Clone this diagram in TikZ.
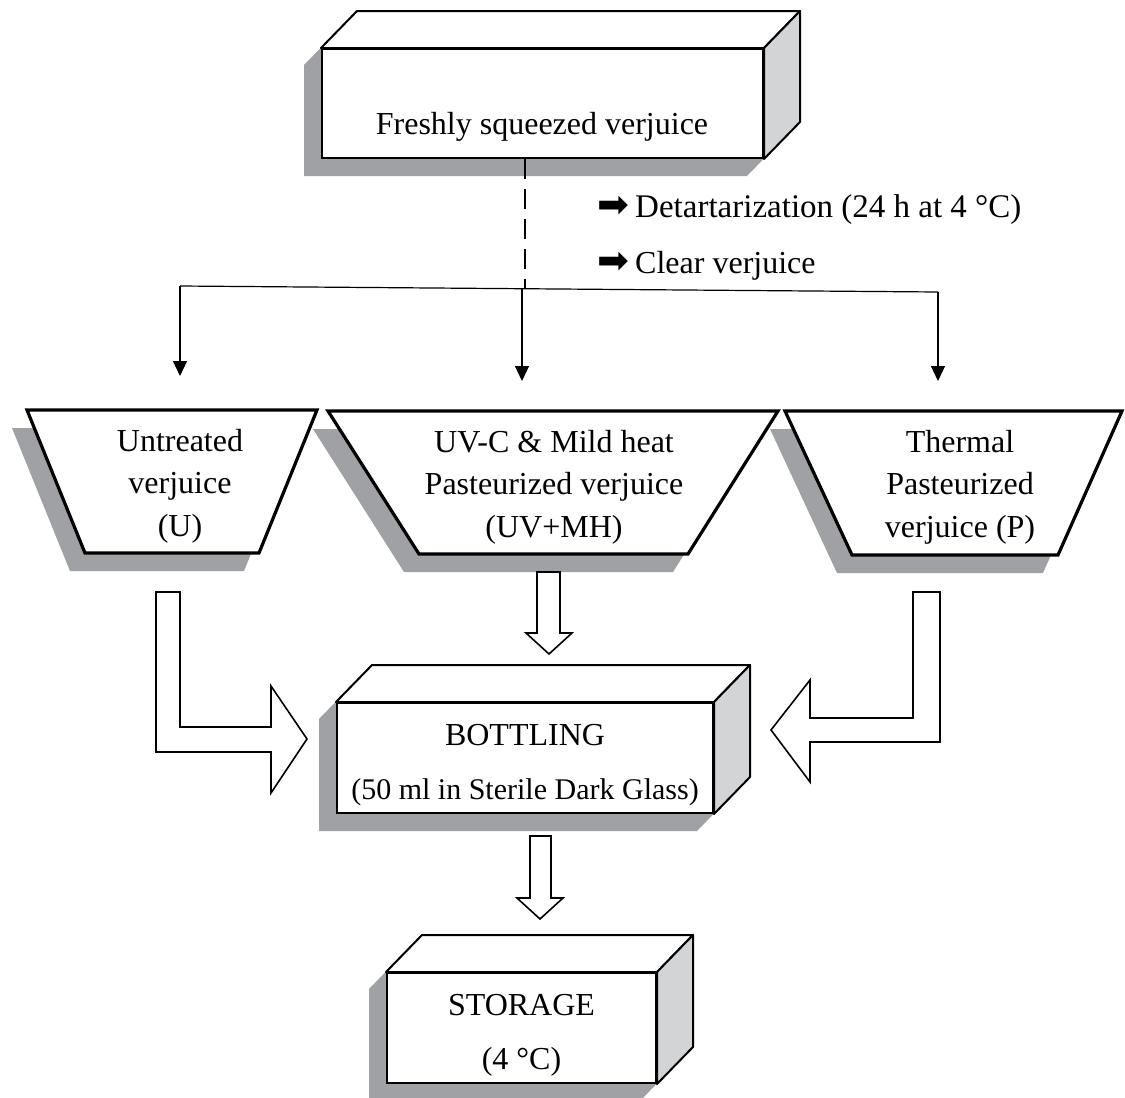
\documentclass[tikz,border=0pt]{standalone}
\usepackage{fontspec}
\setmainfont{Liberation Serif}
\newfontfamily\symfont{DejaVu Sans}
\usetikzlibrary{arrows.meta,calc,backgrounds}
\definecolor{shadowgray}{RGB}{160,161,164}
\definecolor{sidegray}{RGB}{211,212,214}

\begin{document}
\begin{tikzpicture}[
  x=0.5pt, y=-0.5pt,
  font=\fontsize{16}{27}\selectfont,
  front/.style={draw, line width=1pt, fill=white, inner sep=0pt},
  inside/.style={align=center, inner sep=0pt, yshift=-3.4pt},
  face/.style={draw, line width=1pt, line join=round},
  shade/.style={fill=shadowgray},
  trap/.style={draw, line width=1.6pt, fill=white},
  lbl/.style={align=center, inner sep=0pt, font=\fontsize{16}{21.25}\selectfont},
  note/.style={anchor=base west, inner sep=0pt},
  thin/.style={line width=0.6pt, -{Triangle[length=7.5pt,width=7pt]}},
  fat/.style={draw, line width=0.8pt, fill=white}
]
\useasboundingbox (0,0) rectangle (1125,1098);

% boxes
\node[front, minimum width=220.5pt, minimum height=54.5pt] (fresh) at (542.5,103.5) {};
\node[anchor=base, inner sep=0pt] (freshlbl) at (542,134) {Freshly squeezed verjuice};
\node[front, minimum width=188pt, minimum height=55pt,
  label={[inside]center:{BOTTLING\\{\fontsize{15}{27}\selectfont(50 ml in Sterile Dark Glass)}}}] (bottle) at (525,758) {};
\node[front, minimum width=134.5pt, minimum height=55pt,
  label={[inside]center:{STORAGE\\(4 °C)}}] (store) at (521.5,1028) {};
\foreach \b in {fresh,bottle,store}{
  \draw[face, fill=white] (\b.north west) -- ++(36,-37) -- ($(\b.north east)+(36,-37)$) -- (\b.north east) -- cycle;
  \draw[face, fill=sidegray] (\b.north east) -- ++(36,-37) -- ($(\b.south east)+(36,-37)$) -- (\b.south east) -- cycle;
}

% treatments
\draw[trap] (27,410) -- (317,410) -- (259,553) -- (85,553) -- cycle;
\draw[trap] (328,411) -- (778,411) -- (688,554) -- (419,554) -- cycle;
\draw[trap] (785,411) -- (1122,411) -- (1058,555) -- (852,555) -- cycle;
\node[lbl, anchor=base] (untreated) at (180,536) {Untreated\\verjuice\\(U)};
\node[lbl, anchor=base] (uvmh) at (554,537) {UV-C \& Mild heat\\Pasteurized verjuice\\(UV+MH)};
\node[lbl, anchor=base] (thermal) at (960,537) {Thermal\\Pasteurized\\verjuice (P)};

% shadows
\begin{scope}[on background layer]
  \foreach \b in {fresh,bottle,store}
    \fill[shade] ($(\b.south west)+(-17,17)$) -- ($(\b.north west)+(-17,17)$) -- ++(36,-37)
      -- ($(\b.north east)+(19,-20)$) -- ($(\b.south east)+(19,-20)$) -- ($(\b.south east)+(-17,17)$) -- cycle;
  \fill[shade, shift={(-15,18)}] (27,410) -- (317,410) -- (259,553) -- (85,553) -- cycle;
  \fill[shade, shift={(-15,18)}] (328,411) -- (778,411) -- (688,554) -- (419,554) -- cycle;
  \fill[shade, shift={(-15,18)}] (785,411) -- (1122,411) -- (1058,555) -- (852,555) -- cycle;
\end{scope}

% split
\coordinate (split) at (525,289);
\coordinate (hl) at (180,286);
\coordinate (hr) at (938,292);
\coordinate (uin) at (180,376);
\coordinate (uvin) at (522,381);
\coordinate (pin) at (938,381);
\draw[line width=1.2pt, dash pattern=on 10pt off 5pt] (fresh.south -| split) -- (split);
\draw[line width=0.6pt] (hl) -- (hr);
\draw[thin] (hl) -- (uin);
\draw[thin] (uvin |- split) -- (uvin);
\draw[thin] (hr) -- (pin);
\node[note] (detart) at (597,217) {{\symfont\fontsize{19}{19}\selectfont ➡}\kern3pt{\fontsize{16.5}{20}\selectfont Detartarization (24 h at 4 °C)}};
\node[note] (clear) at (597,273) {{\symfont\fontsize{19}{19}\selectfont ➡}\kern3pt Clear verjuice};

% block arrows
\draw[fat] (156,592) -- (180,592) -- (180,727) -- (271,727) -- (271,686) -- (307,739)
  -- (271,793) -- (271,752) -- (156,752) -- cycle;
\draw[fat] (913,592) -- (940,592) -- (940,742) -- (810,742) -- (810,782) -- (771,730)
  -- (810,680) -- (810,718) -- (913,718) -- cycle;
\draw[fat] (537,572) -- (560,572) -- (560,633) -- (572,633) -- (549,654) -- (526,633) -- (537,633) -- cycle;
\draw[fat] (530,836) -- (551,836) -- (551,898) -- (563,898) -- (540,919) -- (517,898) -- (530,898) -- cycle;
\end{tikzpicture}
\end{document}
